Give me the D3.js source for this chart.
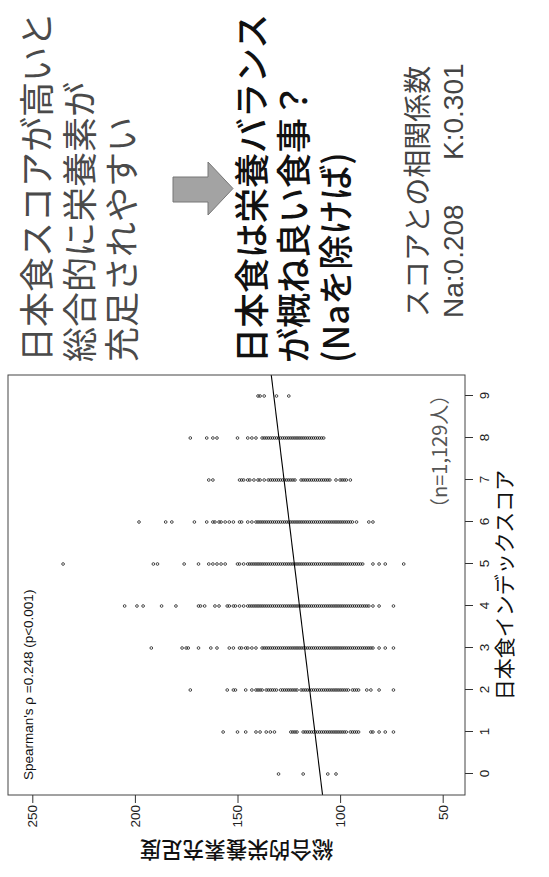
<!DOCTYPE html>
<html>
<head>
<meta charset="utf-8">
<script src="https://cdn.jsdelivr.net/npm/d3@7"></script>
<style>
  body { margin: 0; background: #fff; }
  svg { display: block; }
</style>
</head>
<body>
<div id="chart"></div>
<script>
// values (score -> nutrient adequacy values)
var scores = [0, 1, 2, 3, 4, 5, 6, 7, 8, 9];
var yTicks = [50, 100, 150, 200, 250];

var score0 = [130, 118, 106, 102];
var score1 = [157, 150, 146, 141, 139, 136, 134, 132, 124, 123, 122, 121,
  118, 117, 116, 115, 114, 113, 112, 111, 110, 109, 108, 107, 106, 105, 104, 103, 102, 101, 100, 99, 98, 97,
  95, 94, 93, 92, 91, 85, 84, 81, 78, 74];
var score2 = [173, 155, 152, 151, 146, 143, 141, 140, 139, 138, 136, 135, 134, 133, 132, 131,
  129, 128, 127, 126, 125, 124, 123, 122, 121,
  119, 118, 117, 116, 115, 114, 113, 112, 111, 110, 109, 108, 107, 106, 105, 104, 103, 102, 101, 100, 99, 98, 97, 96,
  94, 93, 92, 91, 87, 85, 81, 74];
var score3 = [192, 177, 175, 174, 169, 163, 160, 154, 152, 149, 148, 146, 145, 143, 141,
  138, 137, 136, 135, 134, 133, 132, 131, 130, 129, 128, 127, 126, 125, 124, 123, 122, 121, 120, 119, 118, 117, 116, 115,
  114, 113, 112, 111, 110, 109, 108, 107, 106, 105, 104, 103, 102, 101, 100, 99, 98, 97, 96, 95, 94, 93, 92, 91, 90,
  89, 88, 87, 86, 85, 84, 81, 78, 74];
var score4 = [205, 199, 196, 187, 180, 169, 168, 166, 161, 159, 155, 154, 152, 151, 149, 147, 145,
  144, 143, 142, 141, 140, 139, 138, 137, 136, 135, 134, 133, 132, 131, 130, 129, 128, 127, 126, 125, 124, 123, 122, 121,
  120, 119, 118, 117, 116, 115, 114, 113, 112, 111, 110, 109, 108, 107, 106, 105, 104, 103, 102, 101, 100, 99, 98, 97,
  96, 95, 94, 93, 92, 91, 90, 89, 88, 87, 86, 84, 81, 74];
var score5 = [235, 191, 189, 176, 169, 164, 162, 160, 158, 156, 150, 149, 147, 145,
  144, 143, 142, 141, 140, 139, 138, 137, 136, 135, 134, 133, 132, 131, 130, 129, 128, 127, 126, 125, 124, 123, 122, 121,
  120, 119, 118, 117, 116, 115, 114, 113, 112, 111, 110, 109, 108, 107, 106, 105, 104, 103, 102, 101, 100, 99, 98, 97,
  96, 95, 94, 93, 92, 91, 90, 89, 84, 81, 78, 69];
var score6 = [198, 185, 182, 171, 165, 162, 161, 159, 158, 156, 154, 152, 149, 148, 145, 143,
  141, 140, 139, 138, 137, 136, 135, 134, 133, 132, 131, 130, 129, 128, 127, 126, 125, 124, 123, 122, 121, 120, 119,
  118, 117, 116, 115, 114, 113, 112, 111, 110, 109, 108, 107, 106, 105, 104, 103, 102, 101, 100, 99, 98, 97, 96, 95, 94,
  92, 86, 84];
var score7 = [164, 162, 149, 148, 147, 145, 144, 142, 140, 139, 137,
  135, 134, 133, 132, 131, 130, 129, 128, 127, 126, 125, 124, 123, 122,
  119, 118, 117, 116, 115, 114, 113, 112, 111, 110, 109, 108, 107, 106, 105, 102, 100, 99, 98, 97, 95];
var score8 = [173, 165, 162, 160, 150, 145, 143, 141, 138,
  137, 136, 135, 134, 133, 132, 131, 130, 129, 128, 127, 126, 125, 124, 123, 122, 121, 120, 119, 118, 117, 116, 115,
  114, 113, 112, 111, 110, 109, 108];
var score9 = [140, 139, 137, 131, 125];

var allScores = [score0, score1, score2, score3, score4, score5, score6, score7, score8, score9];

// regression line
var fitIntercept = 109.8;
var fitSlope = 2.5;

var slideLines1 = ["日本食スコアが高いと", "総合的に栄養素が", "充足されやすい"];
var slideLines2 = ["日本食は栄養バランス", "が概ね良い食事？", "(Naを除けば)"];

// page is portrait, the slide is landscape and turned a quarter turn
var pageW = 549, pageH = 877;

var svg = d3.select("#chart")
  .append("svg")
    .attr("width", pageW)
    .attr("height", pageH);

var slide = svg.append("g")
  .attr("transform", "translate(0," + pageH + ") rotate(-90)");

var box = {left: 82, right: 502, top: 8, bottom: 465};

var x = d3.scaleLinear().domain([-0.5, 9.5]).range([box.left, box.right]);
var y = d3.scaleLinear().domain([50, 250]).range([442.7, 32.3]);

// flatten points
var points = [];
allScores.forEach(function(vals, i) {
  vals.forEach(function(v) { points.push({s: scores[i], v: v}); });
});

var plot = slide.append("g");

plot.append("clipPath").attr("id", "clip")
  .append("rect")
    .attr("x", box.left).attr("y", box.top)
    .attr("width", box.right - box.left).attr("height", box.bottom - box.top);

plot.selectAll("circle.pt")
  .data(points)
  .enter()
  .append("circle")
    .attr("class", "pt")
    .attr("cx", function(d) { return x(d.s); })
    .attr("cy", function(d) { return y(d.v); })
    .attr("r", 1.35)
    .attr("fill", "none")
    .attr("stroke", "#222")
    .attr("stroke-width", 0.8);

// fitted line
plot.append("line")
  .attr("clip-path", "url(#clip)")
  .attr("x1", x(-0.5)).attr("y1", y(fitIntercept + fitSlope * -0.5))
  .attr("x2", x(9.5)).attr("y2", y(fitIntercept + fitSlope * 9.5))
  .attr("stroke", "#000")
  .attr("stroke-width", 1.1);

// box
plot.append("rect")
  .attr("x", box.left).attr("y", box.top)
  .attr("width", box.right - box.left).attr("height", box.bottom - box.top)
  .attr("fill", "none")
  .attr("stroke", "#444")
  .attr("stroke-width", 1);

// axes
var yAxis = plot.append("g")
  .attr("transform", "translate(" + box.left + ",0)")
  .call(d3.axisLeft(y).tickValues(yTicks).tickSize(8).tickSizeOuter(0).tickPadding(2));
var xAxis = plot.append("g")
  .attr("transform", "translate(0," + box.bottom + ")")
  .call(d3.axisBottom(x).tickValues(scores).tickSize(8).tickSizeOuter(0).tickPadding(6));

[yAxis, xAxis].forEach(function(ax) {
  ax.select(".domain").remove();
  ax.selectAll("line").attr("stroke", "#333");
  ax.selectAll("text")
    .attr("font-family", "'Liberation Sans', Arial, sans-serif")
    .attr("font-size", 13.5)
    .attr("fill", "#222");
});

plot.append("text")
  .attr("x", 97).attr("y", 32.5)
  .attr("font-family", "'Liberation Sans', Arial, sans-serif")
  .attr("font-size", 13.5)
  .attr("fill", "#111")
  .text("Spearman's ρ =0.248 (p<0.001)");

plot.append("text")
  .attr("x", 359).attr("y", 447)
  .attr("font-family", "'Noto Sans CJK JP', sans-serif")
  .attr("font-size", 20)
  .attr("fill", "#555")
  .text("（n=1,129人）");

plot.append("text")
  .attr("x", (box.left + box.right) / 2).attr("y", 512)
  .attr("text-anchor", "middle")
  .attr("font-family", "'Noto Sans CJK JP', sans-serif")
  .attr("font-size", 21)
  .attr("fill", "#111")
  .text("日本食インデックスコア");

plot.append("text")
  .attr("transform", "translate(27," + (box.top + box.bottom) / 2 + ") rotate(-90)")
  .attr("text-anchor", "middle")
  .attr("dy", "0.35em")
  .attr("font-family", "'Noto Sans CJK JP', sans-serif")
  .attr("font-size", 21.5)
  .attr("font-weight", 500)
  .attr("fill", "#111")
  .text("総合的栄養素充足度");

// slide text on the right
var jp = "'Noto Sans CJK JP', sans-serif";

slide.selectAll("text.l1")
  .data(slideLines1)
  .enter()
  .append("text")
    .attr("class", "l1")
    .attr("x", 515)
    .attr("y", function(d, i) { return 50 + i * 42.5; })
    .attr("font-family", jp)
    .attr("font-size", 35)
    .attr("fill", "#4a4a4a")
    .text(function(d) { return d; });

slide.selectAll("text.l2")
  .data(slideLines2)
  .enter()
  .append("text")
    .attr("class", "l2")
    .attr("x", 514)
    .attr("y", function(d, i) { return 265 + i * 42; })
    .attr("font-family", jp)
    .attr("font-size", 35)
    .attr("font-weight", 500)
    .attr("fill", "#111")
    .text(function(d) { return d; });

// block arrow between the two statements
slide.append("polygon")
  .attr("points", [[675, 173], [700, 173], [700, 208], [715, 208], [688.5, 233], [662, 208], [675, 208]]
    .map(function(p) { return p.join(","); }).join(" "))
  .attr("fill", "#a3a3a3")
  .attr("stroke", "#777")
  .attr("stroke-width", 1);

slide.append("text")
  .attr("x", 560).attr("y", 428)
  .attr("font-family", jp)
  .attr("font-size", 28)
  .attr("fill", "#444")
  .text("スコアとの相関係数");

slide.append("text")
  .attr("x", 559).attr("y", 463)
  .attr("font-family", "'Liberation Sans', Arial, sans-serif")
  .attr("font-size", 28)
  .attr("fill", "#444")
  .text("Na:0.208");

slide.append("text")
  .attr("x", 717).attr("y", 463)
  .attr("font-family", "'Liberation Sans', Arial, sans-serif")
  .attr("font-size", 28)
  .attr("fill", "#444")
  .text("K:0.301");
</script>
</body>
</html>
